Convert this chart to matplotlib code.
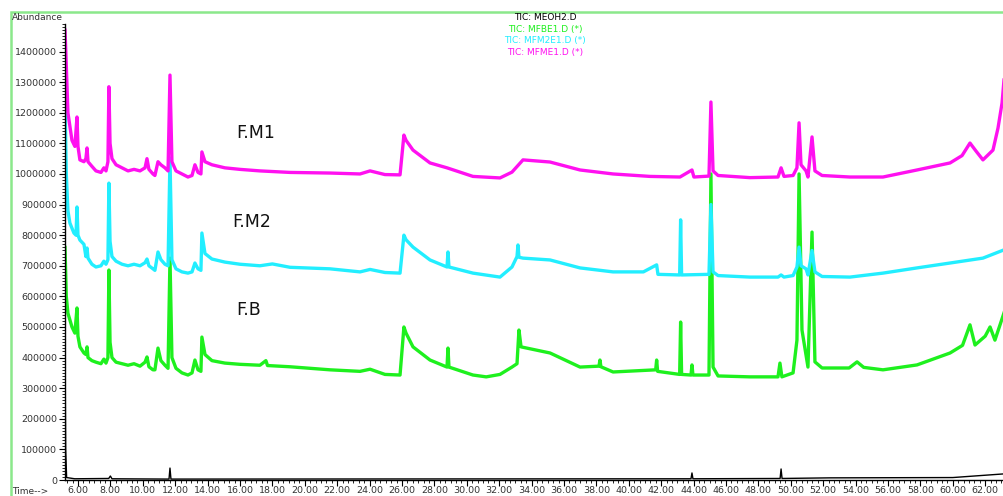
import matplotlib
matplotlib.use("Agg")
import matplotlib.pyplot as plt
from matplotlib.patches import Rectangle
from matplotlib.ticker import MultipleLocator, FuncFormatter

# --- TIC traces (time in min, abundance) ---
fm1_time = [5.20, 5.25, 5.38, 5.63, 5.81, 5.94, 6.00, 6.12, 6.37, 6.49, 6.56, 6.62,
            6.86, 7.11, 7.42, 7.60, 7.73, 7.85, 7.91, 7.98, 8.10, 8.35, 8.72, 9.09,
            9.46, 9.83, 10.14, 10.26, 10.38, 10.63, 10.75, 10.94, 11.12, 11.37, 11.56,
            11.68, 11.80, 12.05, 12.42, 12.79, 13.04, 13.22, 13.41, 13.59, 13.65, 13.84,
            14.27, 15.07, 16.00, 17.23, 19.09, 21.56, 23.41, 24.03, 24.95, 25.88, 26.12,
            26.25, 26.68, 27.73, 28.78, 30.38, 32.05, 32.79, 33.47, 35.14, 36.99, 39.03,
            41.31, 43.16, 43.90, 44.02, 44.95, 45.07, 45.20, 45.51, 47.48, 49.21, 49.40,
            49.58, 50.14, 50.38, 50.51, 50.63, 50.94, 51.06, 51.31, 51.49, 51.93, 53.65,
            55.69, 57.79, 59.83, 60.57, 61.06, 61.43, 61.86, 62.48, 62.79, 63.04, 63.16]
fm1_abund = [1470000, 1400000, 1200000, 1110000, 1090000, 1186000, 1090000, 1046000,
             1040000, 1050000, 1085000, 1040000, 1025000, 1010000, 1005000, 1020000,
             1010000, 1040000, 1285000, 1100000, 1050000, 1030000, 1020000, 1010000,
             1015000, 1010000, 1020000, 1050000, 1015000, 1000000, 995000, 1040000,
             1030000, 1020000, 1010000, 1323000, 1040000, 1010000, 1000000, 990000,
             995000, 1030000, 1005000, 1000000, 1072000, 1040000, 1030000, 1020000,
             1015000, 1010000, 1005000, 1003000, 1000000, 1010000, 998000, 997000,
             1127000, 1110000, 1078000, 1036000, 1020000, 992000, 987000, 1006000,
             1046000, 1039000, 1013000, 1000000, 992000, 990000, 1013000, 990000,
             993000, 1235000, 1010000, 995000, 988000, 990000, 1020000, 992000,
             995000, 1020000, 1167000, 1030000, 1010000, 990000, 1121000, 1010000,
             995000, 990000, 990000, 1013000, 1036000, 1060000, 1101000, 1075000,
             1046000, 1078000, 1150000, 1232000, 1307000]

fm2_time = [5.20, 5.28, 5.38, 5.50, 5.75, 5.88, 5.94, 6.00, 6.12, 6.37, 6.49, 6.56,
            6.62, 6.86, 7.11, 7.42, 7.60, 7.73, 7.85, 7.91, 7.98, 8.10, 8.35, 8.72,
            9.09, 9.46, 9.83, 10.14, 10.26, 10.38, 10.63, 10.75, 10.94, 11.12, 11.37,
            11.56, 11.68, 11.80, 12.05, 12.42, 12.79, 13.04, 13.22, 13.41, 13.59, 13.65,
            13.84, 14.27, 15.07, 16.00, 17.23, 18.00, 19.09, 21.56, 23.41, 24.03, 24.95,
            25.88, 26.12, 26.25, 26.68, 27.73, 28.78, 28.84, 28.90, 30.38, 32.05, 32.79,
            33.10, 33.16, 33.22, 33.47, 35.14, 36.99, 39.03, 40.90, 41.72, 41.80, 43.14,
            43.20, 43.26, 44.95, 45.07, 45.20, 45.51, 47.48, 49.21, 49.40, 49.58, 50.14,
            50.38, 50.51, 50.63, 50.94, 51.06, 51.31, 51.49, 51.93, 53.65, 55.69, 57.79,
            59.83, 61.86, 63.16]
fm2_abund = [1240000, 1000000, 880000, 840000, 807000, 800000, 892000, 800000, 784000,
             770000, 730000, 758000, 725000, 705000, 696000, 700000, 715000, 705000,
             720000, 970000, 780000, 730000, 715000, 705000, 700000, 705000, 700000,
             710000, 722000, 700000, 690000, 685000, 745000, 720000, 705000, 700000,
             1052000, 720000, 690000, 680000, 676000, 680000, 709000, 690000, 685000,
             807000, 740000, 722000, 712000, 705000, 700000, 706000, 695000, 690000,
             680000, 688000, 678000, 676000, 800000, 785000, 761000, 719000, 696000,
             745000, 696000, 676000, 663000, 696000, 730000, 768000, 728000, 725000,
             719000, 693000, 680000, 680000, 703000, 672000, 670000, 850000, 670000,
             672000, 900000, 680000, 668000, 663000, 663000, 670000, 663000, 668000,
             696000, 761000, 700000, 690000, 670000, 750000, 680000, 665000, 663000,
             676000, 693000, 709000, 725000, 752000]

fb_time = [5.20, 5.28, 5.38, 5.63, 5.81, 5.94, 6.00, 6.12, 6.37, 6.49, 6.56, 6.62,
           6.86, 7.11, 7.42, 7.60, 7.73, 7.85, 7.91, 7.98, 8.10, 8.35, 8.72, 9.09,
           9.46, 9.83, 10.14, 10.26, 10.38, 10.63, 10.75, 10.94, 11.12, 11.37, 11.56,
           11.68, 11.80, 12.05, 12.42, 12.79, 13.04, 13.22, 13.41, 13.59, 13.65, 13.84,
           14.27, 15.07, 16.00, 17.23, 17.60, 17.70, 19.09, 21.56, 23.41, 24.03, 24.95,
           25.88, 26.12, 26.25, 26.68, 27.73, 28.78, 28.84, 28.90, 30.38, 31.20, 32.05,
           32.79, 33.10, 33.22, 33.35, 35.14, 36.99, 38.16, 38.22, 38.28, 39.03, 41.66,
           41.72, 41.78, 43.14, 43.20, 43.26, 43.84, 43.90, 43.96, 44.95, 45.07, 45.20,
           45.51, 47.48, 49.21, 49.33, 49.45, 50.14, 50.38, 50.51, 50.69, 51.06, 51.31,
           51.49, 51.93, 53.60, 54.09, 54.50, 55.69, 57.79, 59.83, 60.60, 61.06, 61.37,
           62.00, 62.30, 62.60, 63.16]
fb_abund = [760000, 600000, 545000, 500000, 480000, 562000, 470000, 435000, 415000,
            410000, 435000, 400000, 390000, 385000, 380000, 395000, 382000, 400000,
            686000, 450000, 400000, 385000, 380000, 375000, 380000, 372000, 385000,
            402000, 370000, 360000, 360000, 431000, 390000, 375000, 365000, 725000,
            400000, 365000, 350000, 343000, 350000, 392000, 360000, 355000, 467000,
            410000, 390000, 382000, 378000, 375000, 390000, 374000, 370000, 360000,
            355000, 362000, 345000, 343000, 500000, 480000, 435000, 392000, 369000,
            431000, 369000, 343000, 337000, 345000, 369000, 380000, 490000, 435000,
            415000, 369000, 372000, 392000, 370000, 353000, 360000, 392000, 355000,
            345000, 516000, 345000, 343000, 376000, 343000, 343000, 1000000, 369000,
            340000, 337000, 337000, 382000, 337000, 350000, 457000, 1000000, 490000,
            369000, 810000, 386000, 366000, 366000, 386000, 368000, 360000, 376000,
            415000, 440000, 507000, 441000, 470000, 500000, 457000, 546000]

meoh_time = [5.20, 5.24, 5.30, 5.80, 7.90, 8.00, 8.10, 11.62, 11.68, 11.74, 43.84,
             43.90, 43.96, 49.34, 49.40, 49.46, 52.42, 60.00, 63.16]
meoh_abund = [440000, 100000, 8000, 4000, 5000, 13000, 4000, 3000, 39000, 3000, 4000,
              23000, 4000, 5000, 36000, 5000, 7000, 8000, 20000]

legend_labels = ["TIC: MEOH2.D", "TIC: MFBE1.D (*)", "TIC: MFM2E1.D (*)", "TIC: MFME1.D (*)"]
sample_labels = ["F.M1", "F.M2", "F.B"]
sample_pos = [(16.95, 1134000), (16.74, 843000), (16.55, 556000)]

BLACK = "#000000"
GREEN = "#1ef01e"
CYAN = "#22eeff"
MAGENTA = "#ff10f0"

fig = plt.figure(figsize=(10.04, 4.96), dpi=100)
ax = fig.add_axes([65 / 1004, 16 / 496, 1 - 65 / 1004, (480 - 24) / 496])

ax.plot(meoh_time, meoh_abund, color=BLACK, lw=1.0)
ax.plot(fb_time, fb_abund, color=GREEN, lw=2.4)
ax.plot(fm2_time, fm2_abund, color=CYAN, lw=2.4)
ax.plot(fm1_time, fm1_abund, color=MAGENTA, lw=2.4)

ax.set_xlim(5.2, 63.16)
ax.set_ylim(0, 1490000)

for sp in ["top", "right"]:
    ax.spines[sp].set_visible(False)
ax.spines["left"].set_linewidth(1.0)
ax.spines["bottom"].set_linewidth(1.0)

ax.xaxis.set_major_locator(MultipleLocator(2))
ax.xaxis.set_minor_locator(MultipleLocator(1 / 3))
ax.xaxis.set_major_formatter(FuncFormatter(lambda v, p: f"{v:.2f}"))
ax.yaxis.set_major_locator(MultipleLocator(100000))
ax.yaxis.set_minor_locator(MultipleLocator(10000))
ax.yaxis.set_major_formatter(FuncFormatter(lambda v, p: f"{int(round(v))}"))
ax.tick_params(axis="both", which="major", length=4, width=0.8, labelsize=6.8,
               labelcolor="#333333", pad=1.5)
ax.tick_params(axis="x", which="major", pad=0.5)
ax.tick_params(axis="both", which="minor", length=2, width=0.6)

# sample names on the traces
for label, (tx, ty) in zip(sample_labels, sample_pos):
    ax.text(tx, ty, label, fontsize=12.5, ha="center", va="center", color="#111111")

# stacked legend text at the top
legend_colors = [BLACK, GREEN, CYAN, MAGENTA]
legend_y = [18, 29.5, 41, 53]
for txt, col, py in zip(legend_labels, legend_colors, legend_y):
    fig.text(545 / 1004, 1 - py / 496, txt, color=col, fontsize=6.5,
             ha="center", va="center")

fig.text(12 / 1004, 1 - 18 / 496, "Abundance", fontsize=6.5, color="#333333",
         ha="left", va="center")
fig.text(12 / 1004, 1 - 491 / 496, "Time-->", fontsize=6.5, color="#333333",
         ha="left", va="center")

# light green frame around the whole window
fig.add_artist(Rectangle((11 / 1004, -0.05), 1.1, 1 - 12 / 496 + 0.05,
                         transform=fig.transFigure, fill=False,
                         edgecolor="#8be88b", lw=1.8))

fig.savefig("out.png", dpi=100)
